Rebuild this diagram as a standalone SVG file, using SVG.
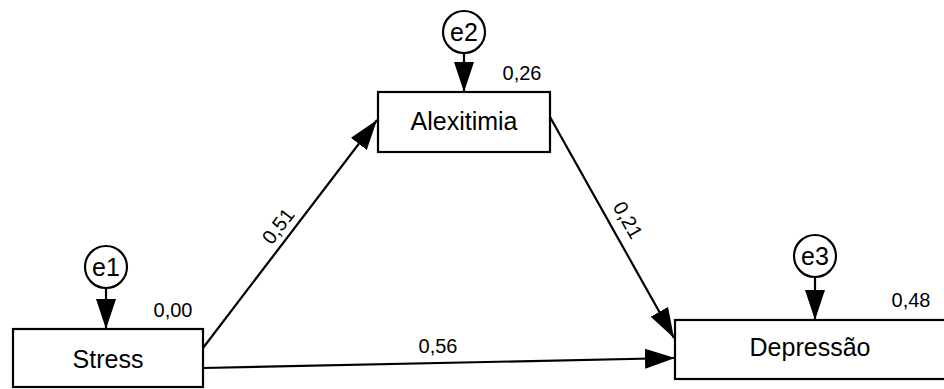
<svg xmlns="http://www.w3.org/2000/svg" width="944" height="389" viewBox="0 0 944 389">
<defs>
<style>
.box{fill:#fff;stroke:#000;stroke-width:2.2}
.err{fill:#fff;stroke:#000;stroke-width:2.2}
.edge{fill:none;stroke:#000;stroke-width:2.2}
.nt{font-family:"Liberation Sans",Arial,sans-serif;font-size:25px;fill:#000;text-anchor:middle}
.et{font-family:"Liberation Sans",Arial,sans-serif;font-size:25px;fill:#000;text-anchor:middle}
.lb{font-family:"Liberation Sans",Arial,sans-serif;font-size:20px;fill:#000;text-anchor:middle}
</style>
<marker id="ah" viewBox="0 0 30 20" refX="30" refY="10" markerWidth="30" markerHeight="20" markerUnits="userSpaceOnUse" orient="auto">
<path d="M0,0 L30,10 L0,20 Z" fill="#000"/>
</marker>
</defs>
<rect width="944" height="389" fill="#fff"/>
<g id="connectors">
<line class="edge" x1="106" y1="288" x2="106" y2="329" marker-end="url(#ah)"/>
<line class="edge" x1="464" y1="53" x2="464" y2="92" marker-end="url(#ah)"/>
<line class="edge" x1="815" y1="277" x2="815" y2="320" marker-end="url(#ah)"/>
<line class="edge" x1="203" y1="348" x2="377" y2="120" marker-end="url(#ah)"/>
<line class="edge" x1="550" y1="117" x2="674" y2="338" marker-end="url(#ah)"/>
<line class="edge" x1="203" y1="368" x2="675" y2="358" marker-end="url(#ah)"/>
<text class="lb" transform="translate(278,226) rotate(-52.5)" x="0" y="7">0,51</text>
<text class="lb" transform="translate(628,220) rotate(60.5)" x="0" y="7">0,21</text>
<text class="lb" x="438" y="353">0,56</text>
</g>
<g id="e1">
<circle class="err" cx="106" cy="267" r="21"/>
<text class="et" x="106" y="276">e1</text>
</g>
<g id="e2">
<circle class="err" cx="464" cy="32" r="21"/>
<text class="et" x="464" y="41">e2</text>
</g>
<g id="e3">
<circle class="err" cx="815" cy="256" r="21"/>
<text class="et" x="815" y="265">e3</text>
</g>
<g id="stress">
<rect class="box" x="13" y="329" width="190" height="58"/>
<text class="nt" x="108" y="368">Stress</text>
<text class="lb" x="173" y="317">0,00</text>
</g>
<g id="alexitimia">
<rect class="box" x="378" y="92" width="172" height="60"/>
<text class="nt" x="464" y="130">Alexitimia</text>
<text class="lb" x="522" y="80">0,26</text>
</g>
<g id="depressao">
<rect class="box" x="675" y="320" width="272" height="59"/>
<text class="nt" x="810" y="356">Depressão</text>
<text class="lb" x="911" y="307">0,48</text>
</g>
</svg>
